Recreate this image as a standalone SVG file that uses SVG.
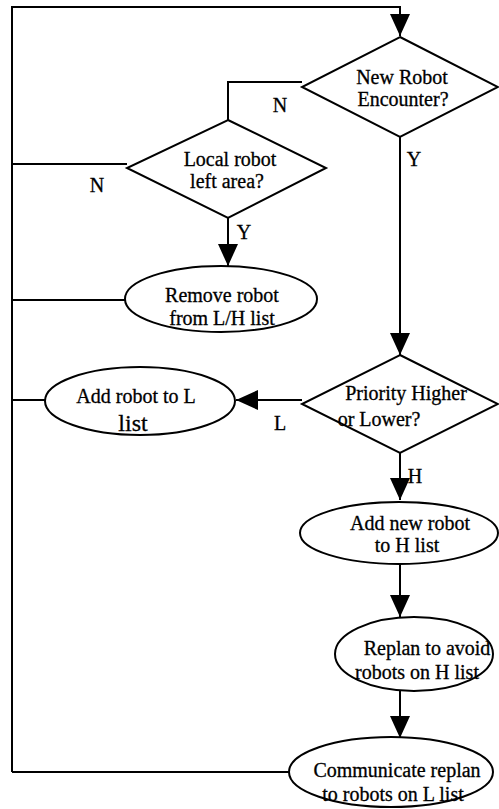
<svg xmlns="http://www.w3.org/2000/svg" width="499" height="809" viewBox="0 0 499 809">
  <style>
    .shape { fill: #ffffff; stroke: #000000; stroke-width: 2; }
    .wire { fill: none; stroke: #000000; stroke-width: 2; }
    .lbl { font-family: "Liberation Serif", "Times New Roman", serif; font-size: 20px; fill: #000000; stroke: #000000; stroke-width: 0.3; text-anchor: middle; }
    .big { font-size: 24px; }
  </style>
  <defs>
    <marker id="arrow" viewBox="0 0 22 20" refX="22" refY="10" markerWidth="22" markerHeight="20" markerUnits="userSpaceOnUse" orient="auto">
      <path d="M0,0 L22,10 L0,20 Z" fill="#000000"/>
    </marker>
  </defs>
  <rect width="499" height="809" fill="#ffffff"/>

  <g id="connectors">
    <!-- main loop back to the top decision -->
    <polyline class="wire" points="12,772 12,7 400,7 400,36" marker-end="url(#arrow)"/>
    <!-- N from new robot decision to local robot decision -->
    <polyline class="wire" points="302,82 228,82 228,120"/>
    <!-- N from local robot decision back to loop -->
    <line class="wire" x1="127" y1="164" x2="12" y2="164"/>
    <!-- Y from local robot decision -->
    <line class="wire" x1="228" y1="218" x2="228" y2="266" marker-end="url(#arrow)"/>
    <!-- remove robot back to loop -->
    <line class="wire" x1="125" y1="300" x2="12" y2="300"/>
    <!-- Y from new robot decision to priority decision -->
    <line class="wire" x1="400" y1="137" x2="400" y2="355" marker-end="url(#arrow)"/>
    <!-- L branch -->
    <line class="wire" x1="302" y1="400" x2="236" y2="400" marker-end="url(#arrow)"/>
    <!-- add to L list back to loop -->
    <line class="wire" x1="45" y1="400" x2="12" y2="400"/>
    <!-- H branch -->
    <line class="wire" x1="400" y1="453" x2="400" y2="500" marker-end="url(#arrow)"/>
    <line class="wire" x1="400" y1="564" x2="400" y2="617" marker-end="url(#arrow)"/>
    <line class="wire" x1="400" y1="691" x2="400" y2="738" marker-end="url(#arrow)"/>
    <!-- communicate replan back to loop -->
    <line class="wire" x1="289" y1="772" x2="12" y2="772"/>
    <text class="lbl" x="280" y="112">N</text>
    <text class="lbl" x="97" y="192">N</text>
    <text class="lbl" x="414" y="166">Y</text>
    <text class="lbl" x="244" y="239">Y</text>
    <text class="lbl" x="280" y="430">L</text>
    <text class="lbl" x="415" y="483">H</text>
  </g>

  <g id="new-robot">
    <polygon class="shape" points="400,37 498,87 400,137 302,87"/>
    <text class="lbl" x="402" y="84">New Robot</text>
    <text class="lbl" x="403" y="106">Encounter?</text>
  </g>

  <g id="local-robot">
    <polygon class="shape" points="228,120 326,168 228,218 127,168"/>
    <text class="lbl" x="230" y="166">Local robot</text>
    <text class="lbl" x="227" y="188">left area?</text>
  </g>

  <g id="remove-robot">
    <ellipse class="shape" cx="221" cy="299" rx="96" ry="33"/>
    <text class="lbl" x="222" y="302">Remove robot</text>
    <text class="lbl" x="222" y="325">from L/H list</text>
  </g>

  <g id="priority">
    <polygon class="shape" points="400,355 498,404 400,453 302,404"/>
    <text class="lbl" x="406" y="400">Priority Higher</text>
    <text class="lbl" x="379" y="426">or Lower?</text>
  </g>

  <g id="add-l">
    <ellipse class="shape" cx="140" cy="401" rx="95" ry="34"/>
    <text class="lbl" x="136" y="403">Add robot to L</text>
    <text class="lbl big" x="133" y="431">list</text>
  </g>

  <g id="add-h">
    <ellipse class="shape" cx="399" cy="533" rx="99" ry="31"/>
    <text class="lbl" x="410" y="530">Add new robot</text>
    <text class="lbl" x="407" y="552">to H list</text>
  </g>

  <g id="replan">
    <ellipse class="shape" cx="414" cy="654" rx="79" ry="37"/>
    <text class="lbl" x="427" y="655">Replan to avoid</text>
    <text class="lbl" x="417" y="679">robots on H list</text>
  </g>

  <g id="communicate">
    <ellipse class="shape" cx="391" cy="772" rx="102" ry="35"/>
    <text class="lbl" x="397" y="777">Communicate replan</text>
    <text class="lbl" x="393" y="801">to robots on L list</text>
  </g>
</svg>
